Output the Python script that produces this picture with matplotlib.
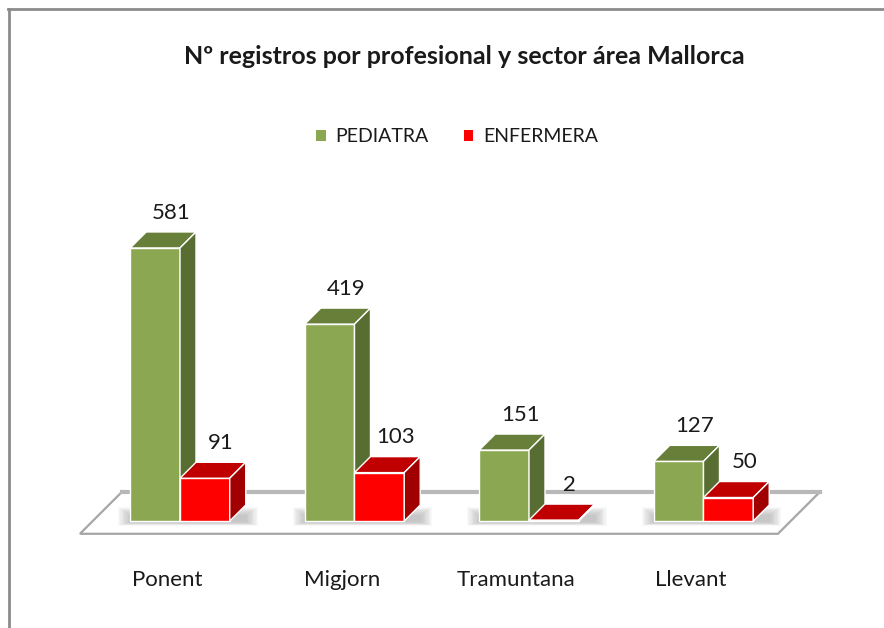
import numpy as np
import matplotlib.pyplot as plt
from matplotlib.patches import Polygon, Patch
from matplotlib.lines import Line2D

# ---------------- data ----------------
categories = ['Ponent', 'Migjorn', 'Tramuntana', 'Llevant']
pediatra = [581, 419, 151, 127]
enfermera = [91, 103, 2, 50]
series_names = ['PEDIATRA', 'ENFERMERA']
title = 'Nº registros por profesional y sector área Mallorca'

plt.rcParams['font.family'] = ['Lato', 'DejaVu Sans']

fig = plt.figure(figsize=(8.84, 6.28), dpi=100)
ax = fig.add_axes([70/884, 88/628, 760/884, 380/628])
ax.set_xlim(-0.6304, 3.725)
ax.set_ylim(-40.4, 768.1)
ax.axis('off')

w = 0.285        # bar width (category units)
ddx = 0.0917     # 3d depth along x
ddy = 34.0       # 3d depth along y (value units)

colors = {
    'PEDIATRA': ('#8ca751', '#677f39', '#586d31'),   # front, top, side
    'ENFERMERA': ('#ff0000', '#c00000', '#a00000'),
}

x = np.arange(len(categories))
n = len(categories)

# floor of the 3d chart
floor = Polygon([(-0.5 - 0.8*ddx, -0.8*ddy), (n - 0.5 - 0.8*ddx, -0.8*ddy),
                 (n - 0.5 + 1.8*ddx, 1.8*ddy), (-0.5 + 1.8*ddx, 1.8*ddy)],
                closed=True, facecolor='white', edgecolor='#a6a6a6', lw=1.6, zorder=1)
ax.add_patch(floor)
ax.plot([-0.5 + 1.8*ddx, n - 0.5 + 1.8*ddx], [1.8*ddy, 1.8*ddy], color='#b8b8b8', lw=3, zorder=1.1)

# soft shadows under each group (stacked translucent layers)
for i in x:
    for k in range(10):
        pad = 0.07 - k*0.007
        sh = Polygon([(i - w - pad, -0.3*ddy + k*0.8), (i + w + ddx + pad, -0.3*ddy + k*0.8),
                      (i + w + ddx + pad, 0.9*ddy - k*2), (i - w - pad, 0.9*ddy - k*2)],
                     closed=True, facecolor='#404040', edgecolor='none', alpha=0.03, zorder=1.5)
        ax.add_patch(sh)


def draw_bar(x0, v, name, z):
    front, top, side = colors[name]
    ax.bar(x0, v, width=w, align='edge', color=front, edgecolor='white', lw=1.0, zorder=z)
    ax.add_patch(Polygon([(x0, v), (x0 + w, v), (x0 + w + ddx, v + ddy), (x0 + ddx, v + ddy)],
                         closed=True, facecolor=top, edgecolor='white', lw=1.0, zorder=z))
    ax.add_patch(Polygon([(x0 + w, 0), (x0 + w + ddx, ddy), (x0 + w + ddx, v + ddy), (x0 + w, v)],
                         closed=True, facecolor=side, edgecolor='white', lw=1.0, zorder=z))
    ax.text(x0 + w/2 + ddx, v + ddy + 20, str(v), ha='center', va='bottom',
            fontsize=16, color='#1a1a1a', zorder=10)


for i in x:
    draw_bar(i - w, pediatra[i], 'PEDIATRA', 3 + i)
    draw_bar(i, enfermera[i], 'ENFERMERA', 3.5 + i)

for i in x:
    ax.text(i - 0.8*ddx, -125, categories[i], ha='center', va='center',
            fontsize=16, color='#1a1a1a')

fig.text(464/884, 1 - 57/628, title, ha='center', va='center',
         fontsize=18, fontweight='bold', color='#1a1a1a')

handles = [Patch(facecolor=colors[s][0], edgecolor='none') for s in series_names]
fig.legend(handles, series_names, loc='center', bbox_to_anchor=(457/884, 1 - 137/628),
           ncol=2, frameon=False, fontsize=14, handlelength=0.5, handleheight=0.5,
           handletextpad=0.5, columnspacing=1.8, labelcolor='#1a1a1a')

# outer chart frame (top and left edges visible)
fig.add_artist(Line2D([8/884, 1], [1 - 9/628, 1 - 9/628], transform=fig.transFigure,
                      color='#8c8c8c', lw=2))
fig.add_artist(Line2D([9/884, 9/884], [0, 1 - 9/628], transform=fig.transFigure,
                      color='#8c8c8c', lw=2))

fig.savefig('out.png', dpi=100, facecolor='white')
